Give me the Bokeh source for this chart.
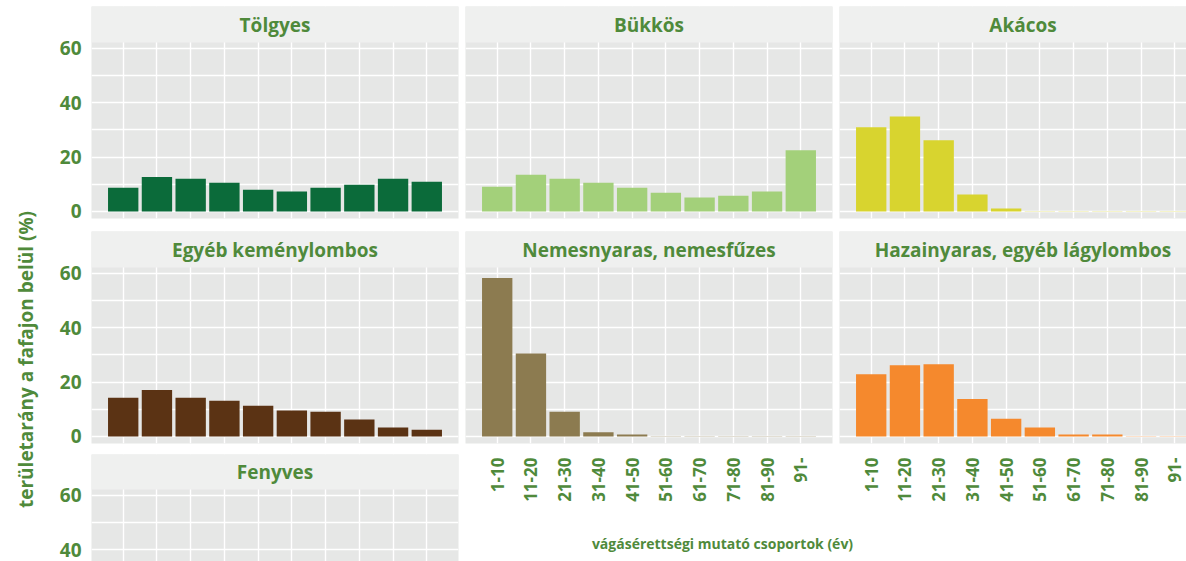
import math
from bokeh.plotting import figure
from bokeh.layouts import row, column
from bokeh.models import Range1d, FixedTicker, Label, BoxAnnotation
from bokeh.embed import file_html
from bokeh.resources import INLINE

# ---------------- data ----------------
age_groups = ["1-10", "11-20", "21-30", "31-40", "41-50",
              "51-60", "61-70", "71-80", "81-90", "91-"]
tolgyes = [8.7, 12.7, 12.0, 10.5, 8.0, 7.3, 8.7, 9.8, 12.0, 10.9]
bukkos = [9.1, 13.5, 12.0, 10.5, 8.7, 6.9, 5.1, 5.8, 7.3, 22.5]
akacos = [30.9, 34.9, 26.2, 6.2, 1.1, 0.1, 0.1, 0.1, 0.1, 0.1]
egyeb_kemenylombos = [14.2, 17.1, 14.2, 13.1, 11.3, 9.5, 9.1, 6.2, 3.3, 2.5]
nemesnyaras = [58.2, 30.5, 9.1, 1.5, 0.7, 0.1, 0.1, 0.1, 0.1, 0.1]
hazainyaras = [22.9, 26.2, 26.5, 13.8, 6.5, 3.3, 0.7, 0.7, 0.1, 0.1]
fenyves = []  # its bars lie below the part of the chart that is shown
y_ticks = [0, 20, 40, 60]
y_minor = [10, 30, 50]

titles = ["Tölgyes", "Bükkös", "Akácos", "Egyéb keménylombos",
          "Nemesnyaras, nemesfűzes", "Hazainyaras, egyéb lágylombos", "Fenyves"]
colors = ["#0b6b3a", "#a3d07a", "#d8d42f", "#5b3314", "#8c7b50", "#f5892d", "#3a6e8c"]
y_title = "területarány a fafajon belül (%)"
x_title = "vágásérettségi mutató csoportok (év)"

# ---------------- style ----------------
GREEN = "#4f8a3b"
PANEL_BG = "#e6e7e6"
STRIP_BG = "#eff0ef"
FONT = "Open Sans"

xs = list(range(1, len(age_groups) + 1))
X_PAD = 0.94
X_LO = xs[0] - X_PAD
X_HI = xs[-1] + X_PAD
X_MID = (xs[0] + xs[-1]) / 2
FRAME_W = 367
PX_X = FRAME_W / (X_HI - X_LO)

Y_LO, Y_HI = -2.6, 62.1
PANEL_H = 176
PX_Y = PANEL_H / (Y_HI - Y_LO)


def panel(title, values, color, frame_w, frame_h, strip_px,
          b_left, b_right, b_top, b_bottom, show_y, show_x):
    x_end = X_LO + frame_w / PX_X
    y_start = Y_HI - (frame_h - strip_px) / PX_Y
    y_end = Y_HI + strip_px / PX_Y
    p = figure(frame_width=frame_w, frame_height=frame_h,
               x_range=Range1d(X_LO, x_end), y_range=Range1d(y_start, y_end),
               x_axis_location="below" if show_x else None,
               y_axis_location="left" if show_y else None,
               min_border_left=b_left, min_border_right=b_right,
               min_border_top=b_top, min_border_bottom=b_bottom,
               output_backend="svg", toolbar_location=None)
    p.background_fill_color = PANEL_BG
    p.border_fill_color = "white"
    p.outline_line_color = None

    p.xgrid.ticker = FixedTicker(ticks=xs)
    p.ygrid.ticker = FixedTicker(ticks=y_ticks, minor_ticks=y_minor)
    for g in (p.xgrid, p.ygrid):
        g.grid_line_color = "white"
        g.grid_line_width = 1.4
    p.ygrid.minor_grid_line_color = "white"
    p.ygrid.minor_grid_line_width = 1.4

    if values:
        p.vbar(x=xs, top=values, width=0.9, color=color, line_color=None)

    p.add_layout(BoxAnnotation(bottom=Y_HI, fill_color=STRIP_BG, fill_alpha=1,
                               line_color=None))
    p.add_layout(Label(x=X_MID, y=Y_HI + 18 / PX_Y, text=title,
                       text_align="center", text_baseline="middle",
                       text_font=FONT, text_font_style="bold",
                       text_font_size="19px", text_color=GREEN))

    if show_y:
        ax = p.yaxis[0]
        ax.ticker = FixedTicker(ticks=y_ticks)
        ax.axis_line_color = None
        ax.major_tick_line_color = None
        ax.minor_tick_line_color = None
        ax.major_tick_out = 0
        ax.major_tick_in = 0
        ax.major_label_standoff = 10
        ax.major_label_text_font = FONT
        ax.major_label_text_font_style = "bold"
        ax.major_label_text_font_size = "19px"
        ax.major_label_text_color = GREEN
    if show_x:
        ax = p.xaxis[0]
        ax.ticker = FixedTicker(ticks=xs)
        ax.major_label_overrides = {x: lab for x, lab in zip(xs, age_groups)}
        ax.major_label_orientation = math.pi / 2
        ax.axis_line_color = None
        ax.major_tick_line_color = None
        ax.minor_tick_line_color = None
        ax.major_tick_out = 0
        ax.major_tick_in = 0
        ax.major_label_standoff = 14
        ax.major_label_text_font = FONT
        ax.major_label_text_font_style = "bold"
        ax.major_label_text_font_size = "17px"
        ax.major_label_text_color = GREEN
    return p


# left column (with y axis)
p_tol = panel(titles[0], tolgyes, colors[0], FRAME_W, 212, 36, 38, 7, 6, 6, True, False)
p_egy = panel(titles[3], egyeb_kemenylombos, colors[3], FRAME_W, 212, 36, 38, 7, 7, 5, True, False)
p_fen = panel(titles[6], fenyves, colors[6], FRAME_W, 107, 35, 38, 7, 6, 0, True, False)

# middle / right columns
p_buk = panel(titles[1], bukkos, colors[1], FRAME_W, 212, 36, 0, 7, 6, 6, False, False)
p_aka = panel(titles[2], akacos, colors[2], 347, 212, 36, 0, 0, 6, 6, False, False)
p_nem = panel(titles[4], nemesnyaras, colors[4], FRAME_W, 212, 36, 0, 7, 7, 65, False, True)
p_haz = panel(titles[5], hazainyaras, colors[5], 347, 212, 36, 0, 0, 7, 65, False, True)

# y axis title
yt = figure(frame_width=53, frame_height=561, x_range=Range1d(0, 53), y_range=Range1d(0, 561),
            x_axis_location=None, y_axis_location=None, min_border=0,
            output_backend="svg", toolbar_location=None)
yt.outline_line_color = None
yt.grid.visible = False
yt.add_layout(Label(x=25, y=202, text=y_title, angle=math.pi / 2,
                    text_align="center", text_baseline="middle",
                    text_font=FONT, text_font_style="bold",
                    text_font_size="19px", text_color=GREEN))

# x axis title
xt = figure(frame_width=721, frame_height=53, x_range=Range1d(0, 721), y_range=Range1d(0, 53),
            x_axis_location=None, y_axis_location=None, min_border=0,
            output_backend="svg", toolbar_location=None)
xt.outline_line_color = None
xt.grid.visible = False
xt.add_layout(Label(x=257, y=18, text=x_title,
                    text_align="center", text_baseline="middle",
                    text_font=FONT, text_font_style="bold",
                    text_font_size="14px", text_color=GREEN))

left_col = column(p_tol, p_egy, p_fen)
right_col = column(row(p_buk, p_aka), row(p_nem, p_haz), xt)
layout = row(yt, left_col, right_col)

open("out.html", "w").write(file_html(layout, INLINE))
